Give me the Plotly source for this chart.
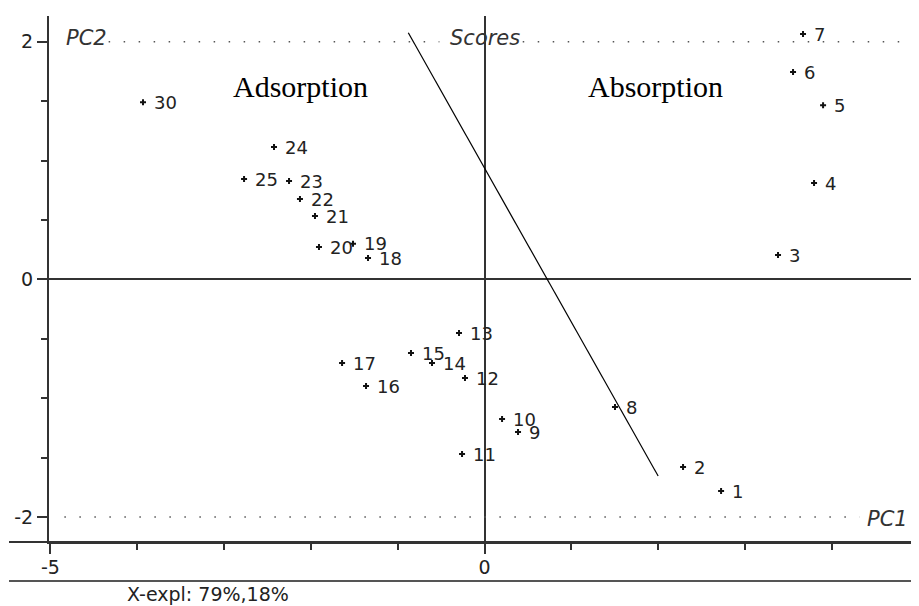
import plotly.graph_objects as go

# ---- data ----
sample_ids = ["1", "2", "3", "4", "5", "6", "7", "8", "9", "10", "11", "12", "13",
              "14", "15", "16", "17", "18", "19", "20", "21", "22", "23", "24", "25", "30"]
pc1_scores = [2.725, 2.287, 3.381, 3.796, 3.900, 3.554, 3.669, 1.503, 0.386, 0.202,
              -0.259, -0.225, -0.294, -0.605, -0.847, -1.365, -1.641, -1.342, -1.515,
              -1.907, -1.953, -2.126, -2.252, -2.425, -2.770, -3.934]
pc2_scores = [-1.781, -1.579, 0.204, 0.810, 1.466, 1.744, 2.064, -1.075, -1.285, -1.176,
              -1.470, -0.831, -0.452, -0.704, -0.620, -0.898, -0.704, 0.179, 0.300,
              0.272, 0.533, 0.676, 0.827, 1.113, 0.844, 1.491]

boundary_pc1 = [-0.878, 2.0]
boundary_pc2 = [2.075, -1.655]

region_names = ["Adsorption", "Absorption"]
region_pc1 = [-2.117, 1.968]
region_pc2 = [1.627, 1.627]

x_tick_vals = [-5, 0, 5]
x_tick_text = ["-5", "0", "5"]
y_tick_vals = [-2, 0, 2]
y_tick_text = ["-2", "0", "2"]
explained_text = "X-expl: 79%,18%"

FONT = "DejaVu Sans"
INK = "#222222"
AXIS = "#333333"

# the page body keeps an 8px margin, so the figure is sized to fill the rest
FIG_W, FIG_H = 911, 598
M_L, M_R, M_T, M_B = 41, 0, 8, 64
plot_w = FIG_W - M_L - M_R
plot_h = FIG_H - M_T - M_B

fig = go.Figure()

fig.add_trace(go.Scatter(
    x=boundary_pc1, y=boundary_pc2, mode="lines",
    line=dict(color="black", width=1.2), hoverinfo="skip", showlegend=False))

fig.add_trace(go.Scatter(
    x=pc1_scores, y=pc2_scores, mode="markers",
    marker=dict(symbol="cross", size=5, color="#111111"),
    hoverinfo="skip", showlegend=False))

annotations = []
for sid, px, py in zip(sample_ids, pc1_scores, pc2_scores):
    annotations.append(dict(
        x=px, y=py, xref="x", yref="y", text=sid, showarrow=False,
        xanchor="left", yanchor="middle", xshift=9,
        font=dict(family=FONT, size=18, color=INK)))

for name, rx, ry in zip(region_names, region_pc1, region_pc2):
    annotations.append(dict(
        x=rx, y=ry, xref="x", yref="y", text=name, showarrow=False,
        xanchor="center", yanchor="middle",
        font=dict(family="Liberation Serif", size=30, color="black")))

italic = dict(family=FONT, size=21, color="#333333", style="italic")
annotations.append(dict(x=-4.84, y=2, xref="x", yref="y", text="PC2", showarrow=False,
                        xanchor="left", yanchor="middle", yshift=4, font=italic))
annotations.append(dict(x=-0.42, y=2, xref="x", yref="y", text="Scores", showarrow=False,
                        xanchor="left", yanchor="middle", yshift=4, font=italic))
annotations.append(dict(x=4.38, y=-2, xref="x", yref="y", text="PC1", showarrow=False,
                        xanchor="left", yanchor="middle", yshift=-2, font=italic))
annotations.append(dict(x=(120 - M_L - 3) / plot_w, y=-(586 - 534) / plot_h,
                        xref="paper", yref="paper", text=explained_text,
                        showarrow=False, xanchor="left", yanchor="middle",
                        font=dict(family=FONT, size=19, color=INK)))

dot = dict(color="#555555", width=1.5, dash="1.5px,13.5px")
shapes = [
    dict(type="line", xref="x", yref="y", x0=-4.33, x1=-0.52, y0=2, y1=2, line=dot),
    dict(type="line", xref="x", yref="y", x0=0.44, x1=5.01, y0=2, y1=2, line=dot),
    dict(type="line", xref="x", yref="y", x0=-4.84, x1=4.32, y0=-2, y1=-2, line=dot),
    dict(type="line", xref="paper", yref="paper", x0=-40 / plot_w, x1=1, y0=0, y1=0,
         line=dict(color=AXIS, width=2)),
    dict(type="line", xref="paper", yref="paper", x0=-40 / plot_w, x1=1,
         y0=-39 / plot_h, y1=-39 / plot_h,
         line=dict(color="#555555", width=2)),
]

fig.update_layout(
    width=FIG_W, height=FIG_H,
    margin=dict(l=M_L, r=M_R, t=M_T, b=M_B),
    paper_bgcolor="white", plot_bgcolor="white",
    showlegend=False,
    annotations=annotations,
    shapes=shapes,
    xaxis=dict(
        range=[-5.017, 5.005], tickmode="array", tickvals=x_tick_vals, ticktext=x_tick_text,
        ticks="outside", ticklen=10, tickwidth=2, tickcolor=AXIS,
        minor=dict(dtick=1, tick0=0, ticks="outside", ticklen=6, tickwidth=2,
                   tickcolor=AXIS, showgrid=False),
        showgrid=False, zeroline=True, zerolinecolor=AXIS, zerolinewidth=2,
        showline=True, linecolor=AXIS, linewidth=2,
        tickfont=dict(family=FONT, size=19, color=INK), ticklabelstandoff=-3,
        fixedrange=True),
    yaxis=dict(
        range=[-2.21, 2.216], tickmode="array", tickvals=y_tick_vals, ticktext=y_tick_text,
        ticks="outside", ticklen=10, tickwidth=2, tickcolor=AXIS,
        minor=dict(dtick=0.5, tick0=0, ticks="outside", ticklen=6, tickwidth=2,
                   tickcolor=AXIS, showgrid=False),
        showgrid=False, zeroline=True, zerolinecolor=AXIS, zerolinewidth=2,
        showline=True, linecolor=AXIS, linewidth=2,
        tickfont=dict(family=FONT, size=19, color=INK),
        fixedrange=True),
)

fig.write_html("out.html", config={"displayModeBar": False})
